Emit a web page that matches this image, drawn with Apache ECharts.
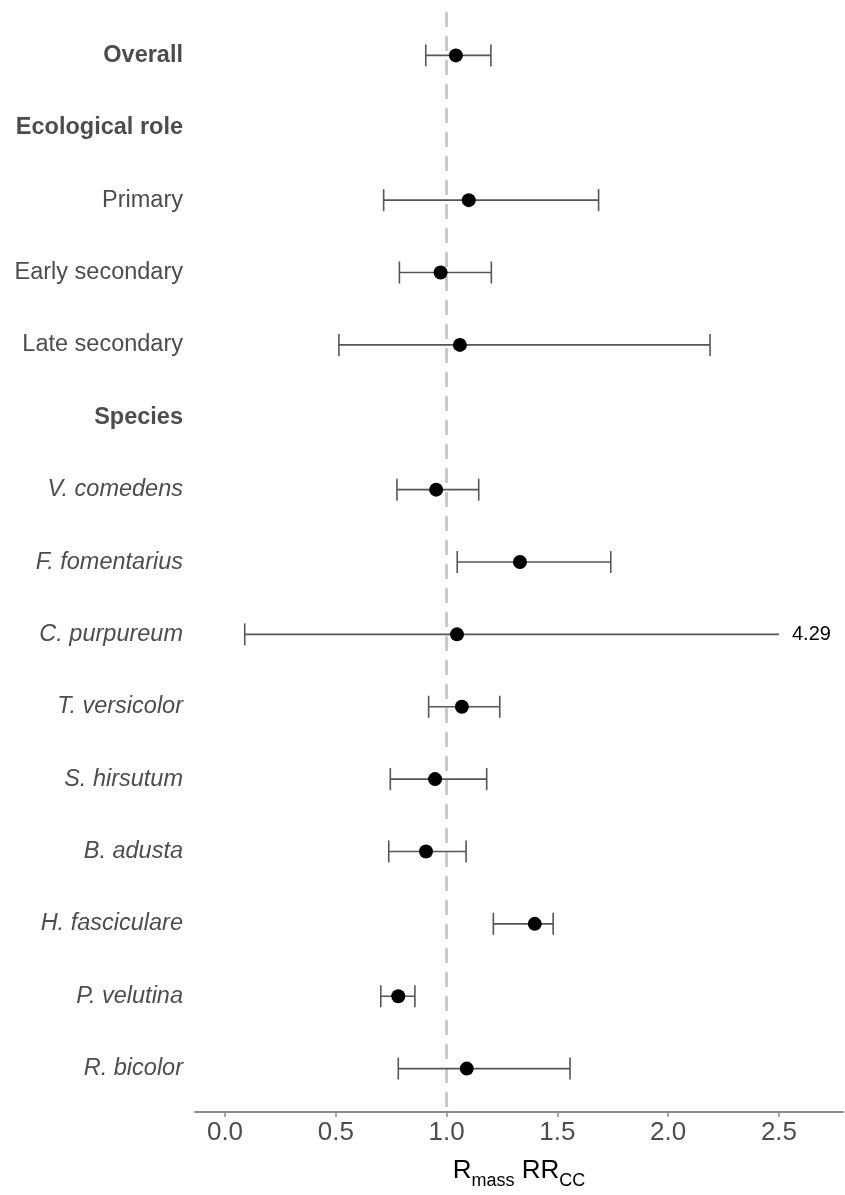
<!DOCTYPE html>
<html>
<head>
<meta charset="utf-8">
<script src="https://cdn.jsdelivr.net/npm/echarts@6/dist/echarts.min.js"></script>
<style>
html,body{margin:0;padding:0;background:#fff;}
#chart{width:845px;height:1195px;}
</style>
</head>
<body>
<div id="chart"></div>
<script>
// ---- data ----
var rowNames = ["Overall","Ecological role","Primary","Early secondary","Late secondary","Species",
  "V. comedens","F. fomentarius","C. purpureum","T. versicolor","S. hirsutum","B. adusta",
  "H. fasciculare","P. velutina","R. bicolor"];
var rowStyle = ["b","b","n","n","n","b","i","i","i","i","i","i","i","i","i"];
var estimate = [1.042,null,1.100,0.973,1.060,null,0.953,1.331,1.047,1.069,0.948,0.907,1.398,0.782,1.091];
var lower    = [0.906,null,0.716,0.787,0.514,null,0.776,1.048,0.089,0.919,0.746,0.739,1.211,0.703,0.782];
var upper    = [1.200,null,1.686,1.202,2.189,null,1.145,1.741,4.29,1.240,1.181,1.088,1.481,0.857,1.557];
var xTicks = [0,0.5,1.0,1.5,2.0,2.5];
var xClip = 2.5;
var refValue = 1.0;

// ---- build ----
var rows = rowNames.map(function(_, i){ return i + 1; });
var ciData = [], ptData = [];
for (var i = 0; i < rowNames.length; i++) {
  if (estimate[i] === null) continue;
  ciData.push([lower[i], upper[i], i + 1]);
  ptData.push([estimate[i], i + 1]);
}

var chart = echarts.init(document.getElementById('chart'), null, {renderer:'canvas'});
var option = {
  backgroundColor: '#ffffff',
  animation: false,
  grid: {left:195, right:2, top:12, bottom:70},
  xAxis: {
    type: 'value', min: -0.1354, max: 2.789,
    axisLine: {show:true, lineStyle:{color:'#8c8c8c', width:2}},
    axisTick: {show:true, customValues: xTicks, length:5, lineStyle:{color:'#8c8c8c', width:1.5}},
    axisLabel: {customValues: xTicks, color:'#4d4d4d', fontSize:26, fontFamily:'Liberation Sans', margin:8,
      formatter: function(v){ return v.toFixed(1); }},
    splitLine: {show:false},
    name: '{r|R}{s|mass}{r| RR}{s|CC}',
    nameLocation: 'middle', nameGap: 46,
    nameTextStyle: {rich:{
      r:{fontSize:26, color:'#000', fontFamily:'Liberation Sans', verticalAlign:'bottom'},
      s:{fontSize:18, color:'#000', fontFamily:'Liberation Sans', verticalAlign:'bottom', padding:[0,0,-6,0]}
    }}
  },
  yAxis: {
    type: 'value', min: 0.4, max: 15.6, inverse: true,
    axisLine: {show:false}, axisTick: {show:false}, splitLine: {show:false},
    axisLabel: {
      customValues: rows, margin: 12,
      formatter: function(v){
        var k = Math.round(v) - 1;
        return '{' + rowStyle[k] + '|' + rowNames[k] + '}';
      },
      rich: {
        b:{fontSize:23.5, fontWeight:'bold', color:'#4d4d4d', fontFamily:'Liberation Sans'},
        n:{fontSize:23.5, color:'#4d4d4d', fontFamily:'Liberation Sans'},
        i:{fontSize:23.5, fontStyle:'italic', color:'#4d4d4d', fontFamily:'Liberation Sans'}
      }
    }
  },
  series: [
    {
      type: 'line', data: [[refValue, 0.4],[refValue, 15.6]], symbol:'none', silent:true, z:1,
      lineStyle:{color:'#c8c8c8', width:3, type:[15,9]}
    },
    {
      type: 'custom', z: 2, data: ciData,
      renderItem: function(params, api){
        var lo = api.value(0), hi = api.value(1), r = api.value(2);
        var clipped = hi > xClip;
        var hiDraw = clipped ? xClip : hi;
        var p1 = api.coord([lo, r]), p2 = api.coord([hiDraw, r]);
        var cap = 11;
        var style = {stroke:'#555555', lineWidth:1.6};
        var children = [
          {type:'line', shape:{x1:p1[0], y1:p1[1], x2:p2[0], y2:p2[1]}, style:style},
          {type:'line', shape:{x1:p1[0], y1:p1[1]-cap, x2:p1[0], y2:p1[1]+cap}, style:style}
        ];
        if (!clipped) {
          children.push({type:'line', shape:{x1:p2[0], y1:p2[1]-cap, x2:p2[0], y2:p2[1]+cap}, style:style});
        } else {
          children.push({type:'text', style:{x:p2[0]+13, y:p2[1], text:hi.toFixed(2), fill:'#000',
            font:'20px "Liberation Sans"', textAlign:'left', textVerticalAlign:'middle'}});
        }
        return {type:'group', children:children};
      }
    },
    {
      type: 'scatter', z: 3, data: ptData, symbol:'circle', symbolSize: 14,
      itemStyle:{color:'#000000', opacity:1}
    }
  ]
};
chart.setOption(option);
</script>
</body>
</html>
